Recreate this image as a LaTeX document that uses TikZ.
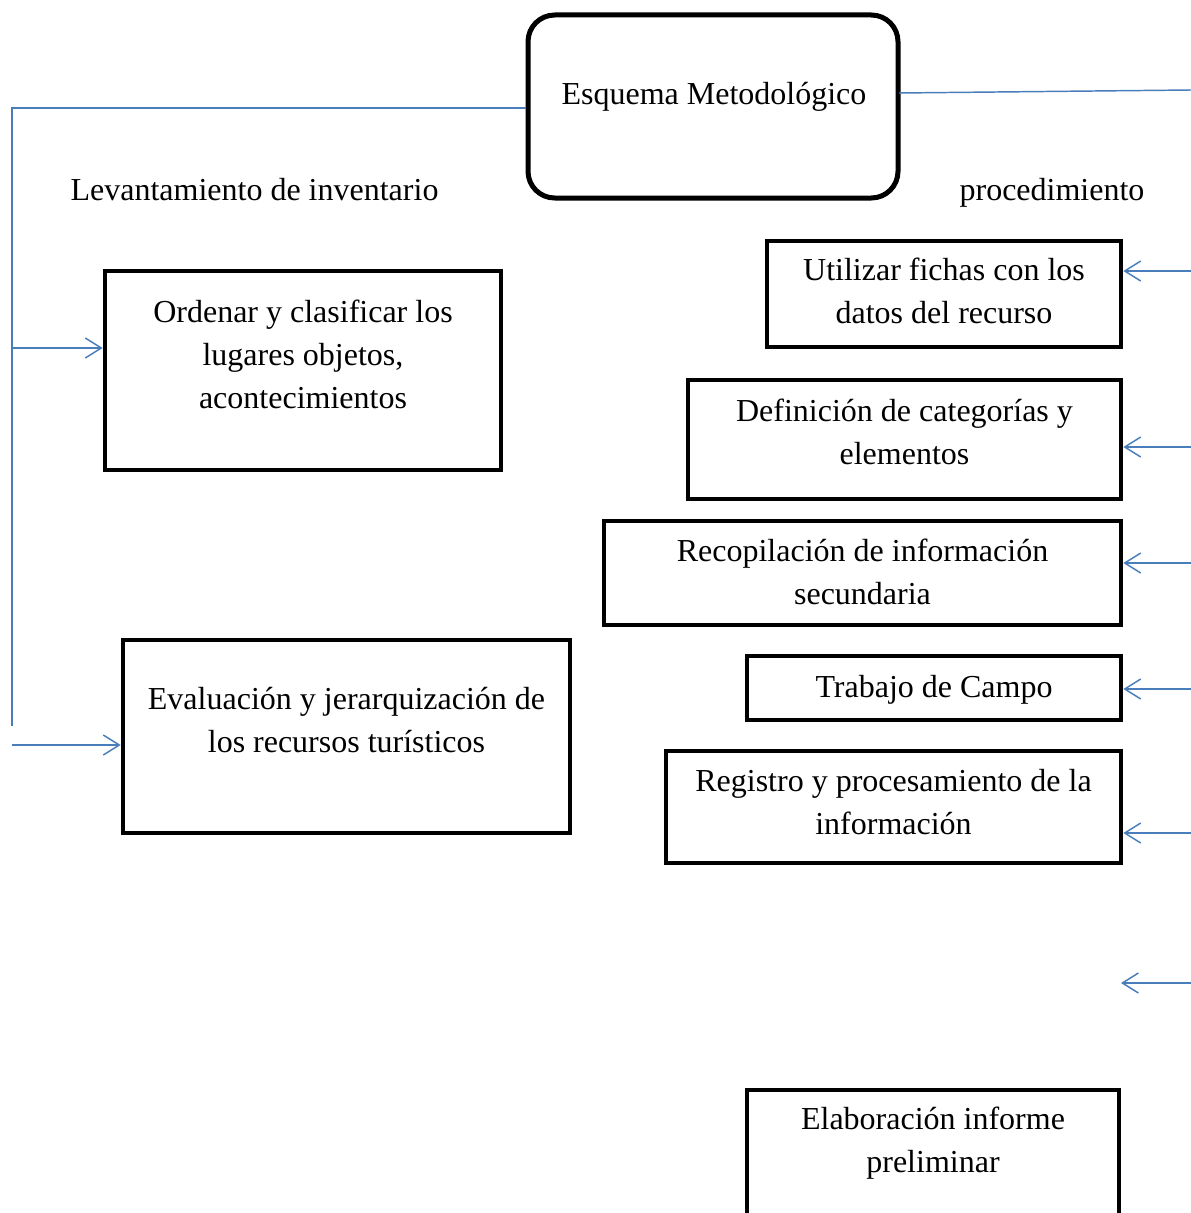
\documentclass[tikz,border=0pt]{standalone}
\usepackage{fontspec}
\setmainfont{Liberation Serif}
\usetikzlibrary{arrows.meta}
\definecolor{linkblue}{RGB}{74,126,187}

\tikzset{every picture/.style={line width=0.75pt}}
\tikzset{
  boxnode/.style={draw, rectangle, line width=3.5pt, inner sep=0pt},
  esqnode/.style={draw, rectangle, rounded corners=20pt, line width=3.75pt, inner sep=0pt},
  txt/.style={inner sep=0pt, align=center, anchor=base, font=\fontsize{24}{32}\selectfont},
  link/.style={draw=linkblue, line width=1.1pt},
  linkarrow/.style={link, -{Straight Barb[length=12pt,width=15pt]}}
}

\begin{document}
\begin{tikzpicture}[x=0.75pt,y=0.75pt,yscale=-1,xscale=1]
\useasboundingbox (0,0) rectangle (1191,1213);
\clip (0,0) rectangle (1191,1213);

%Shape: Rounded Rect
\node[esqnode, minimum width=277.5pt, minimum height=137.25pt] (esq) at (713,106.5) {};
%Shape: Rectangle
\node[boxnode, minimum width=297pt, minimum height=149.25pt] (ord) at (303,370.5) {};
\node[boxnode, minimum width=335.25pt, minimum height=144.75pt] (eva) at (346.5,736.5) {};
\node[boxnode, minimum width=265.5pt, minimum height=79.5pt] (uti) at (944,294) {};
\node[boxnode, minimum width=324.75pt, minimum height=89.25pt] (def) at (904.5,439.5) {};
\node[boxnode, minimum width=387.75pt, minimum height=78pt] (rec) at (862.5,573) {};
\node[boxnode, minimum width=280.5pt, minimum height=48pt] (tra) at (934,688) {};
\node[boxnode, minimum width=341.25pt, minimum height=84pt] (reg) at (893.5,807) {};
\node[boxnode, minimum width=279pt, minimum height=157.5pt] (ela) at (933,1195) {};

%Coordinates
\coordinate (lTop) at (12,108);
\coordinate (lBot) at (12,726);
\coordinate (lA) at (12,348);
\coordinate (lB) at (12,745);
\coordinate (eR) at (899,93);
\coordinate (eRend) at (1191,90);
\coordinate (r1) at (1191,271);
\coordinate (r2) at (1191,447);
\coordinate (r3) at (1191,563);
\coordinate (r4) at (1191,689);
\coordinate (r5) at (1191,833);
\coordinate (r6) at (1191,983);
\coordinate (r6e) at (1121,983);

%Straight Lines
\draw[link] (esq.west |- lTop) -- (lTop) -- (lBot);
\draw[link] (eR) -- (eRend);
\draw[linkarrow] (lA) -- (lA -| ord.west);
\draw[linkarrow] (lB) -- (lB -| eva.west);
\draw[linkarrow] (r1) -- (r1 -| uti.east);
\draw[linkarrow] (r2) -- (r2 -| def.east);
\draw[linkarrow] (r3) -- (r3 -| rec.east);
\draw[linkarrow] (r4) -- (r4 -| tra.east);
\draw[linkarrow] (r5) -- (r5 -| reg.east);
\draw[linkarrow] (r6) -- (r6e);

% Text Node
\node[txt] (tEsq) at (714,104) {Esquema Metodológico};
% Text Node
\node[txt] (tLev) at (254.5,200.5) {Levantamiento de inventario};
% Text Node
\node[txt] (tPro) at (1052,200) {procedimiento};
% Text Node
\node[txt] (tOrd) at (303,408) {Ordenar y clasificar los\\lugares objetos,\\acontecimientos};
% Text Node
\node[txt] (tEva) at (346.5,752) {Evaluación y jerarquización de\\los recursos turísticos};
% Text Node
\node[txt] (tUti) at (944,323) {Utilizar fichas con los\\datos del recurso};
% Text Node
\node[txt] (tDef) at (904.5,464) {Definición de categorías y\\elementos};
% Text Node
\node[txt] (tRec) at (862.5,604) {Recopilación de información\\secundaria};
% Text Node
\node[txt] (tTra) at (934,697) {Trabajo de Campo};
% Text Node
\node[txt] (tReg) at (893.5,834) {Registro y procesamiento de la\\información};
% Text Node
\node[txt] (tEla) at (933,1172) {Elaboración informe\\preliminar};

\end{tikzpicture}
\end{document}
